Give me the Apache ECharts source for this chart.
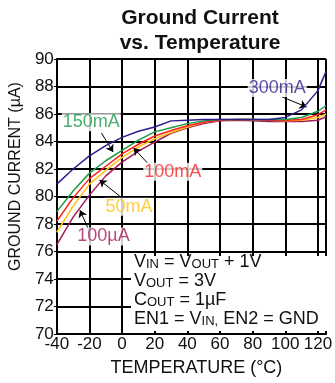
<!DOCTYPE html>
<html>
<head>
<meta charset="utf-8">
<script src="https://cdn.jsdelivr.net/npm/echarts@6/dist/echarts.min.js"></script>
<style>
  html, body { margin: 0; padding: 0; background: #fff; }
  #chart { width: 335px; height: 383px; }
</style>
</head>
<body>
<div id="chart"></div>
<script>
// temperature (°C) and ground current (µA) per load
const temps   = [-40, -30, -20, -10, 0, 10, 20, 30, 40, 50, 60, 70, 80, 90, 100, 110, 120, 125]
const i300mA  = [80.9, 82.0, 82.95, 83.7, 84.3, 84.75, 85.05, 85.5, 85.55, 85.6, 85.6, 85.6, 85.6, 85.6, 85.75, 86.3, 87.7, 89.1]
const i150mA  = [78.9, 80.4, 81.7, 82.6, 83.35, 84.1, 84.7, 85.0, 85.3, 85.5, 85.6, 85.6, 85.6, 85.6, 85.6, 85.75, 86.2, 86.6]
const i100mA  = [78.2, 79.9, 81.3, 82.2, 83.1, 83.8, 84.4, 84.8, 85.15, 85.4, 85.55, 85.6, 85.6, 85.55, 85.55, 85.6, 85.95, 86.3]
const i50mA   = [77.4, 79.3, 80.9, 81.9, 82.85, 83.6, 84.2, 84.65, 85.05, 85.4, 85.55, 85.6, 85.6, 85.55, 85.5, 85.55, 85.75, 86.0]
const i100uA  = [76.5, 78.5, 80.1, 81.5, 82.5, 83.3, 83.95, 84.6, 85.0, 85.3, 85.5, 85.55, 85.5, 85.45, 85.45, 85.45, 85.55, 85.8]

const seriesNames  = ['300mA', '150mA', '100mA', '50mA', '100µA']
const seriesValues = [i300mA, i150mA, i100mA, i50mA, i100uA]
const colors = ['#2d1e8f', '#1b9a48', '#ff2020', '#ffc20e', '#a3195b']

// where each curve label sits and where its arrow points (axis units)
const labelX = [95.1, -18.9, 31.0, 4.2, -11.4]
const labelY = [87.9, 85.4, 81.8, 79.25, 77.1]
const arrowFrom = [[98.1, 87.24], [-12.65, 84.62], [15.5, 82.44], [-0.7, 79.96], [-19.8, 77.4]]
const arrowTo   = [[113.1, 86.51], [-5.5, 83.24], [7.1, 83.53], [-13.85, 81.2], [-25.8, 79.0]]

const font = 'Liberation Sans, Arial, sans-serif'

const chart = echarts.init(document.getElementById('chart'))

const lines = seriesNames.map((name, i) => ({
  name: name,
  type: 'line',
  data: temps.map((t, j) => [t, seriesValues[i][j]]),
  symbol: 'none',
  lineStyle: { color: colors[i], width: 1.5 },
  z: 5 - i
}))

const options = {
  animation: false,
  title: {
    text: 'Ground Current\nvs. Temperature',
    left: 195,
    top: 1,
    textAlign: 'center',
    textStyle: { fontFamily: font, fontSize: 21, fontWeight: 'bold', lineHeight: 25, color: '#111' }
  },
  grid: { left: 54, right: 5, top: 59, bottom: 49 },
  xAxis: {
    type: 'value',
    min: -40,
    max: 125,
    interval: 20,
    name: 'TEMPERATURE (°C)',
    nameLocation: 'middle',
    nameGap: 25,
    nameTextStyle: { fontFamily: font, fontSize: 18, color: '#111', padding: [0, 0, 0, 10] },
    axisLine: { lineStyle: { color: '#000', width: 2 } },
    axisTick: { inside: true, length: 3, lineStyle: { color: '#000' } },
    axisLabel: {
      fontFamily: font, fontSize: 17, color: '#111', margin: 2,
      showMaxLabel: false,
      formatter: v => (v > 120 ? '' : v)
    },
    splitLine: { lineStyle: { color: '#000', width: 2 } }
  },
  yAxis: {
    type: 'value',
    min: 70,
    max: 90,
    interval: 2,
    name: 'GROUND CURRENT (µA)',
    nameLocation: 'middle',
    nameGap: 25,
    nameTextStyle: { fontFamily: font, fontSize: 16, color: '#111', padding: [0, 0, 0, 40] },
    axisLine: { onZero: false, lineStyle: { color: '#000', width: 2 } },
    axisTick: { length: 3, lineStyle: { color: '#000' } },
    axisLabel: { fontFamily: font, fontSize: 17, color: '#111', margin: 3 },
    splitLine: { lineStyle: { color: '#000', width: 2 } }
  },
  series: [
    ...lines,
    {
      name: 'labels',
      type: 'scatter',
      symbolSize: 0,
      silent: true,
      z: 20,
      data: seriesNames.map((n, i) => ({
        name: n,
        value: [labelX[i], labelY[i]],
        label: { color: colors[i] }
      })),
      label: {
        show: true,
        position: 'inside',
        formatter: p => p.name,
        fontFamily: font,
        fontSize: 18,
        backgroundColor: '#fff',
        padding: [0, 1]
      },
      markLine: {
        silent: true,
        symbol: ['none', 'arrow'],
        symbolSize: 7,
        label: { show: false },
        lineStyle: { color: '#000', width: 1, type: 'solid' },
        data: arrowFrom.map((a, i) => [{ coord: a }, { coord: arrowTo[i] }])
      }
    }
  ],
  graphic: [
    {
      type: 'rect',
      z: 50,
      shape: { x: 131, y: 256, width: 198, height: 75 },
      style: { fill: '#fff' }
    },
    {
      type: 'text',
      z: 51,
      x: 134,
      y: 252,
      style: {
        text: '{m|V}{s|IN}{m| = V}{s|OUT}{m| + 1V}\n{m|V}{s|OUT}{m| = 3V}\n{m|C}{s|OUT}{m| = 1µF}\n{m|EN1 = V}{s|IN,}{m| EN2 = GND}',
        fill: '#111',
        rich: {
          m: { fontFamily: font, fontSize: 18, lineHeight: 19, verticalAlign: 'bottom', color: '#111' },
          s: { fontFamily: font, fontSize: 13, lineHeight: 10, verticalAlign: 'bottom', color: '#111' }
        }
      }
    }
  ]
}

chart.setOption(options)
</script>
</body>
</html>
